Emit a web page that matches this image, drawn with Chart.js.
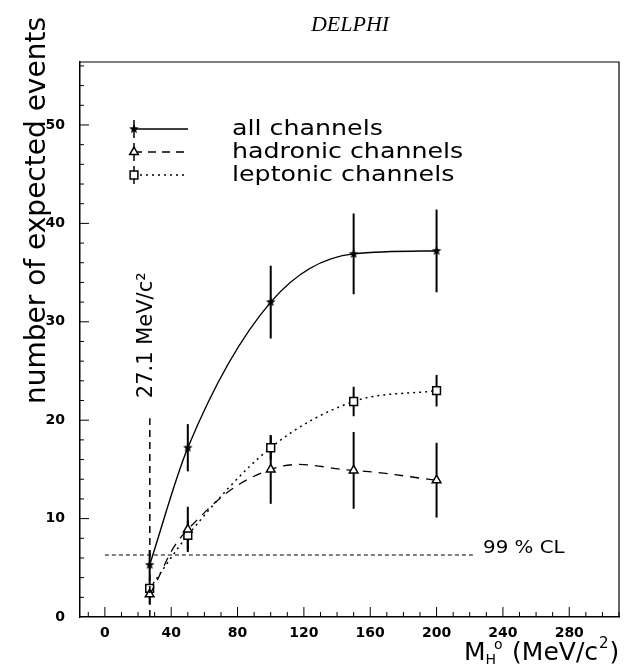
<!DOCTYPE html>
<html>
<head>
<meta charset="utf-8">
<script src="https://cdn.jsdelivr.net/npm/chart.js@4.4.1/dist/chart.umd.min.js"></script>
<style>
  html, body { margin: 0; padding: 0; background: #fff; }
</style>
</head>
<body>
<canvas id="myChart" width="626" height="668"></canvas>
<script>
const masses = [27, 50, 100, 150, 200];
const allChannels = [5.3, 17.2, 32.0, 36.9, 37.2];
const allErrors = [1.5, 2.4, 3.7, 4.1, 4.2];
const hadronic = [2.3, 8.9, 15.0, 14.9, 13.9];
const hadronicErrors = [1.0, 2.3, 3.5, 3.9, 3.8];
const leptonic = [2.9, 8.3, 17.2, 21.9, 23.0];
const leptonicErrors = [1.0, 1.5, 1.2, 1.5, 1.6];
const seriesNames = ["all channels", "hadronic channels", "leptonic channels"];
const xTicks = [0, 40, 80, 120, 160, 200, 240, 280];
const yTicks = [0, 10, 20, 30, 40, 50];
const limitMass = 27.1;
const limitTop = 20.2;
const clLevel = 6.3;
const clEnd = 222;

const FONT = "'DejaVu Sans', 'Liberation Sans', sans-serif";

// small filled star used as point style
function makeStar(r) {
  const c = document.createElement("canvas");
  c.width = c.height = r * 2 + 2;
  const g = c.getContext("2d");
  g.translate(r + 1, r + 1);
  g.beginPath();
  for (let i = 0; i < 10; i++) {
    const rad = i % 2 ? r * 0.45 : r;
    const a = -Math.PI / 2 + i * Math.PI / 5;
    g.lineTo(rad * Math.cos(a), rad * Math.sin(a));
  }
  g.closePath();
  g.fillStyle = "#000";
  g.fill();
  return c;
}
const star = makeStar(5);

const toPoints = (ys) => masses.map((m, i) => ({ x: m, y: ys[i] }));
const errors = [allErrors, hadronicErrors, leptonicErrors];

// error bars, drawn under the markers
const errorBars = {
  id: "errorBars",
  beforeDatasetsDraw(chart) {
    const ctx = chart.ctx;
    const xs = chart.scales.x, ys = chart.scales.y;
    ctx.save();
    ctx.strokeStyle = "#000";
    ctx.lineWidth = 2;
    chart.data.datasets.forEach((ds, di) => {
      ds.data.forEach((p, i) => {
        const px = xs.getPixelForValue(p.x);
        ctx.beginPath();
        ctx.moveTo(px, ys.getPixelForValue(p.y - errors[di][i]));
        ctx.lineTo(px, ys.getPixelForValue(p.y + errors[di][i]));
        ctx.stroke();
      });
    });
    ctx.restore();
  }
};

// wide lettering like the original plot
function wideText(ctx, text, x, y, stretch) {
  ctx.save();
  ctx.translate(x, y);
  ctx.scale(stretch, 1);
  ctx.fillText(text, 0, 0);
  ctx.restore();
}

// frame, inward ticks, limit lines, legend and texts
const decorations = {
  id: "decorations",
  afterDraw(chart) {
    const ctx = chart.ctx;
    const xs = chart.scales.x, ys = chart.scales.y;
    const a = chart.chartArea;
    ctx.save();
    ctx.strokeStyle = "#000";
    ctx.fillStyle = "#000";

    // top and right of the frame
    ctx.lineWidth = 1.2;
    ctx.beginPath();
    ctx.moveTo(a.left, a.top);
    ctx.lineTo(a.right, a.top);
    ctx.lineTo(a.right, a.bottom);
    ctx.stroke();

    // ticks pointing into the frame
    ctx.lineWidth = 1;
    for (let v = -10; v <= 310; v += 10) {
      const px = xs.getPixelForValue(v);
      const len = v % 40 === 0 ? 10 : 5;
      ctx.beginPath();
      ctx.moveTo(px, a.bottom);
      ctx.lineTo(px, a.bottom - len);
      ctx.stroke();
    }
    for (let v = 2; v <= 56; v += 2) {
      const py = ys.getPixelForValue(v);
      const len = v % 10 === 0 ? 9 : 4;
      ctx.beginPath();
      ctx.moveTo(a.left, py);
      ctx.lineTo(a.left + len, py);
      ctx.stroke();
    }

    // 99% CL line
    ctx.setLineDash([4, 3]);
    ctx.lineWidth = 1;
    ctx.beginPath();
    ctx.moveTo(xs.getPixelForValue(0), ys.getPixelForValue(clLevel));
    ctx.lineTo(xs.getPixelForValue(clEnd), ys.getPixelForValue(clLevel));
    ctx.stroke();

    // mass limit line
    ctx.setLineDash([7, 5]);
    ctx.lineWidth = 1.5;
    ctx.beginPath();
    ctx.moveTo(xs.getPixelForValue(limitMass), ys.getPixelForValue(0));
    ctx.lineTo(xs.getPixelForValue(limitMass), ys.getPixelForValue(limitTop));
    ctx.stroke();
    ctx.setLineDash([]);

    ctx.font = "18px " + FONT;
    ctx.textBaseline = "middle";
    ctx.textAlign = "left";
    wideText(ctx, "99 % CL", xs.getPixelForValue(clEnd) + 10, ys.getPixelForValue(clLevel) - 7, 1.1);

    ctx.save();
    ctx.font = "21px " + FONT;
    ctx.translate(xs.getPixelForValue(limitMass) - 3, ys.getPixelForValue(limitTop) - 20);
    ctx.rotate(-Math.PI / 2);
    ctx.textAlign = "left";
    ctx.fillText("27.1 MeV/c²", 0, 0);
    ctx.restore();

    // legend
    const styles = [[], [8, 6], [2, 4]];
    const rows = [129, 152, 175];
    rows.forEach((ry, i) => {
      const sx = 134;
      ctx.strokeStyle = "#000";
      ctx.lineWidth = 1.3;
      ctx.setLineDash(styles[i]);
      ctx.beginPath();
      ctx.moveTo(sx, ry);
      ctx.lineTo(sx + 54, ry);
      ctx.stroke();
      ctx.setLineDash([]);
      ctx.lineWidth = 1.5;
      ctx.beginPath();
      ctx.moveTo(sx, ry - 9);
      ctx.lineTo(sx, ry + 9);
      ctx.stroke();
      ctx.fillStyle = "#fff";
      Chart.helpers.drawPoint(ctx, {
        pointStyle: chart.data.datasets[i].pointStyle,
        radius: chart.data.datasets[i].pointRadius,
        borderWidth: 1.5,
        rotation: 0
      }, sx, ry);
      ctx.fillStyle = "#000";
      ctx.font = "22px " + FONT;
      wideText(ctx, seriesNames[i], 232, ry, 1.15);
    });

    // titles
    ctx.font = "italic 22px 'Liberation Serif', serif";
    ctx.textAlign = "center";
    ctx.fillText("DELPHI", 350, 25);

    ctx.save();
    ctx.font = "28px " + FONT;
    ctx.translate(45, 404);
    ctx.rotate(-Math.PI / 2);
    ctx.textAlign = "left";
    ctx.textBaseline = "alphabetic";
    ctx.fillText("number of expected events", 0, 0);
    ctx.restore();

    // x title with sub/superscripts
    ctx.textAlign = "left";
    ctx.textBaseline = "alphabetic";
    let x = 464;
    const base = 660;
    ctx.font = "25px " + FONT;
    ctx.fillText("M", x, base);
    x += ctx.measureText("M").width;
    ctx.font = "14px " + FONT;
    ctx.fillText("H", x, base + 4);
    const hw = ctx.measureText("H").width;
    ctx.fillText("o", x + hw - 2, base - 11);
    x += hw + 16;
    ctx.font = "25px " + FONT;
    ctx.fillText("(MeV/c", x, base);
    x += ctx.measureText("(MeV/c").width;
    ctx.font = "15px " + FONT;
    ctx.fillText("2", x + 1, base - 12);
    x += ctx.measureText("2").width + 2;
    ctx.font = "25px " + FONT;
    ctx.fillText(")", x, base);

    ctx.restore();
  }
};

const ctx = document.getElementById("myChart");

new Chart(ctx, {
  type: "line",
  data: {
    datasets: [
      {
        label: seriesNames[0],
        data: toPoints(allChannels),
        borderColor: "#000",
        borderWidth: 1.4,
        pointStyle: star,
        pointRadius: 5,
        cubicInterpolationMode: "monotone"
      },
      {
        label: seriesNames[1],
        data: toPoints(hadronic),
        borderColor: "#000",
        borderWidth: 1.3,
        borderDash: [9, 7],
        pointStyle: "triangle",
        pointRadius: 5,
        pointBackgroundColor: "#fff",
        pointBorderColor: "#000",
        pointBorderWidth: 1.5,
        tension: 0.4
      },
      {
        label: seriesNames[2],
        data: toPoints(leptonic),
        borderColor: "#000",
        borderWidth: 1.5,
        borderDash: [2, 4],
        pointStyle: "rect",
        pointRadius: 5.5,
        pointBackgroundColor: "#fff",
        pointBorderColor: "#000",
        pointBorderWidth: 1.5,
        cubicInterpolationMode: "monotone"
      }
    ]
  },
  options: {
    responsive: false,
    animation: false,
    devicePixelRatio: 1,
    layout: { padding: { top: 62, right: 4, left: 0, bottom: 0 } },
    plugins: { legend: { display: false }, tooltip: { enabled: false } },
    scales: {
      x: {
        type: "linear",
        min: -15,
        max: 310,
        grid: { drawOnChartArea: false, drawTicks: false },
        border: { display: true, color: "#000", width: 1.5 },
        ticks: {
          stepSize: 40,
          includeBounds: false,
          padding: 8,
          color: "#000",
          font: { family: FONT, size: 14, weight: "bold" },
          callback: (v) => (xTicks.includes(v) ? v : "")
        },
        afterFit: (s) => { s.height = 51; }
      },
      y: {
        min: 0,
        max: 56.4,
        grid: { drawOnChartArea: false, drawTicks: false },
        border: { display: true, color: "#000", width: 1.5 },
        ticks: {
          stepSize: 10,
          includeBounds: false,
          padding: 15,
          color: "#000",
          font: { family: FONT, size: 14, weight: "bold" },
          callback: (v) => (yTicks.includes(v) ? v : "")
        },
        afterFit: (s) => { s.width = 80; }
      }
    }
  },
  plugins: [errorBars, decorations]
});
</script>
</body>
</html>
